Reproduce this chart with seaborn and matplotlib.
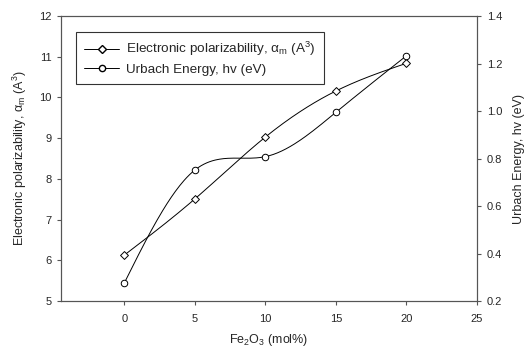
import numpy as np
import pandas as pd
import matplotlib
matplotlib.use("Agg")
import matplotlib.pyplot as plt
from matplotlib.lines import Line2D
import seaborn as sns

# data
fe2o3 = [0, 5, 10, 15, 20]
polarizability = [6.13, 7.51, 9.03, 10.16, 10.84]
urbach = [0.277, 0.752, 0.808, 0.995, 1.233]


def natural_spline(x, y, n=200):
    # natural cubic spline just for drawing the smooth connecting curve
    x = np.asarray(x, float)
    y = np.asarray(y, float)
    k = len(x)
    h = np.diff(x)
    A = np.zeros((k, k))
    b = np.zeros(k)
    A[0, 0] = A[-1, -1] = 1
    for i in range(1, k - 1):
        A[i, i - 1] = h[i - 1]
        A[i, i] = 2 * (h[i - 1] + h[i])
        A[i, i + 1] = h[i]
        b[i] = 3 * ((y[i + 1] - y[i]) / h[i] - (y[i] - y[i - 1]) / h[i - 1])
    c = np.linalg.solve(A, b)
    xs = np.linspace(x[0], x[-1], n)
    ys = np.empty_like(xs)
    for j, xv in enumerate(xs):
        i = min(np.searchsorted(x, xv, side="right") - 1, k - 2)
        dx = xv - x[i]
        bi = (y[i + 1] - y[i]) / h[i] - h[i] * (2 * c[i] + c[i + 1]) / 3
        di = (c[i + 1] - c[i]) / (3 * h[i])
        ys[j] = y[i] + bi * dx + c[i] * dx ** 2 + di * dx ** 3
    return xs, ys


sns.set_style("ticks")
plt.rcParams["font.family"] = ["Liberation Sans", "DejaVu Sans"]
plt.rcParams["mathtext.fontset"] = "custom"
plt.rcParams["mathtext.rm"] = "Liberation Sans"
plt.rcParams["mathtext.it"] = "Liberation Sans:italic"

fig = plt.figure(figsize=(5.29, 3.49), dpi=100)
ax = fig.add_axes([0.1153, 0.1375, 0.7864, 0.8165])
ax2 = ax.twinx()

df = pd.DataFrame({"x": fe2o3, "pol": polarizability, "urb": urbach})

xs, ys = natural_spline(fe2o3, polarizability)
ax.plot(xs, ys, color="black", lw=0.7, zorder=2)
sns.scatterplot(data=df, x="x", y="pol", ax=ax, marker="D", s=16,
                facecolor="white", edgecolor="black", linewidth=0.7, zorder=3)

xs2, ys2 = natural_spline(fe2o3, urbach)
ax2.plot(xs2, ys2, color="black", lw=0.7, zorder=2)
sns.scatterplot(data=df, x="x", y="urb", ax=ax2, marker="o", s=22,
                facecolor="white", edgecolor="black", linewidth=0.7, zorder=3)

ax.set_xlim(-4.5, 25)
ax.set_ylim(5, 12)
ax2.set_ylim(0.2, 1.4)
ax.set_xticks([0, 5, 10, 15, 20, 25])
ax.set_yticks(range(5, 13))
ax2.set_yticks(np.arange(0.2, 1.41, 0.2))
ax2.set_yticklabels([f"{v:.1f}" for v in np.arange(0.2, 1.41, 0.2)])

for a in (ax, ax2):
    for s in a.spines.values():
        s.set_visible(True)
        s.set_linewidth(0.8)
        s.set_color("#555555")
    a.tick_params(labelsize=8, length=3, width=0.8, color="#555555", pad=4)
ax.tick_params(axis="x", pad=6)

ax.set_xlabel(r"Fe$_2$O$_3$ (mol%)", fontsize=9, labelpad=6)
ax.set_ylabel(r"Electronic polarizability, α$_{\rm m}$ (A$^3$)", fontsize=9,
              labelpad=7)
ax2.set_ylabel("Urbach Energy, hv (eV)", fontsize=9, labelpad=8)

handles = [
    Line2D([], [], color="black", lw=0.7, marker="D", markersize=4,
           markerfacecolor="white", markeredgecolor="black"),
    Line2D([], [], color="black", lw=0.7, marker="o", markersize=4.5,
           markerfacecolor="white", markeredgecolor="black"),
]
labels = [r"Electronic polarizability, α$_{\rm m}$ (A$^3$)",
          "Urbach Energy, hv (eV)"]
leg = ax.legend(handles, labels, loc="upper left", bbox_to_anchor=(0.036, 0.944),
                fontsize=9.7, frameon=True, fancybox=False, edgecolor="black",
                borderaxespad=0, handlelength=2.6, labelspacing=0.4,
                borderpad=0.6, handletextpad=0.5)
leg.get_frame().set_linewidth(0.8)

fig.savefig("out.png", dpi=100)
